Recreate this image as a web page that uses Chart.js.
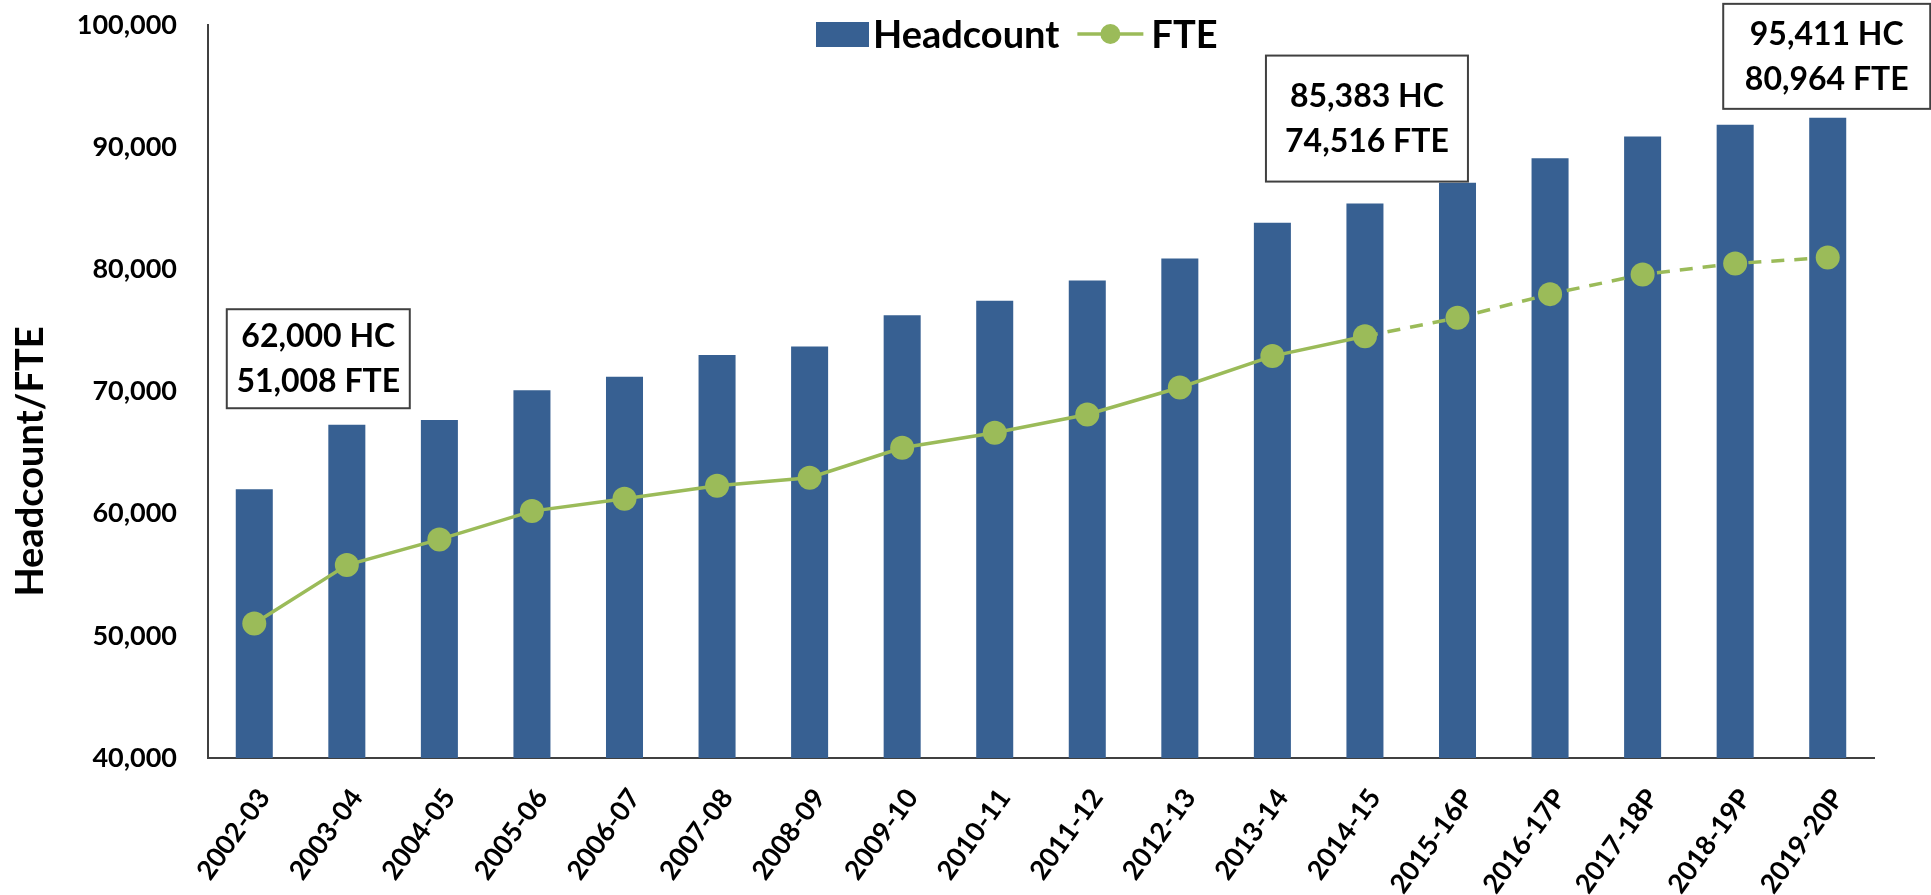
<!DOCTYPE html>
<html>
<head>
<meta charset="utf-8">
<title>Headcount / FTE</title>
<script src="https://cdn.jsdelivr.net/npm/chart.js@4/dist/chart.umd.min.js"></script>
<style>
  html, body { margin: 0; padding: 0; background: #ffffff; }
  #wrap { width: 1931px; height: 895px; }
</style>
</head>
<body>
<div id="wrap"><canvas id="hcChart" width="1931" height="895"></canvas></div>
<script>
// values
const categories = [
  "2002-03", "2003-04", "2004-05", "2005-06", "2006-07", "2007-08",
  "2008-09", "2009-10", "2010-11", "2011-12", "2012-13", "2013-14",
  "2014-15", "2015-16P", "2016-17P", "2017-18P", "2018-19P", "2019-20P",
];
const headcount = [
  62000, 67280, 67660, 70110, 71200, 72980, 73690, 76250, 77420,
  79090, 80890, 83810, 85383, 87080, 89100, 90870, 91830, 92400,
];
const fte = [
  51008, 55790, 57890, 60210, 61220, 62290, 62940, 65390, 66620,
  68120, 70330, 72900, 74516, 76030, 77970, 79580, 80480, 80964,
];
const lastActualIndex = 12; // FTE goes dashed after 2014-15
const yMin = 40000;
const yMax = 100000;
const yStep = 10000;
const yTitle = "Headcount/FTE";
const calloutIndexes = [0, 12, 17];
const calloutLines = [
  ["62,000 HC", "51,008 FTE"],
  ["85,383 HC", "74,516 FTE"],
  ["95,411 HC", "80,964 FTE"],
];

const BAR_COLOR = "#376092";
const LINE_COLOR = "#9bbb59";
const AXIS_COLOR = "#404040";
const FONT = "Lato, 'Open Sans', sans-serif";

// box placement relative to its bar: x shift, gap above bar top, size
const calloutStyle = [
  { dx: 64, gap: 81, w: 183, h: 99 },
  { dx: 2, gap: 22, w: 202, h: 126 },
  { dx: -1, gap: 9, w: 207, h: 105 },
];

const calloutPlugin = {
  id: "callouts",
  afterDatasetsDraw(chart) {
    const { ctx, scales } = chart;
    ctx.save();
    ctx.font = `bold 32px ${FONT}`;
    ctx.textAlign = "center";
    ctx.textBaseline = "middle";
    calloutIndexes.forEach((idx, i) => {
      const st = calloutStyle[i];
      const cx = scales.x.getPixelForValue(idx) + st.dx;
      const bottom = scales.y.getPixelForValue(headcount[idx]) - st.gap;
      const top = bottom - st.h;
      ctx.fillStyle = "#ffffff";
      ctx.fillRect(cx - st.w / 2, top, st.w, st.h);
      ctx.strokeStyle = AXIS_COLOR;
      ctx.lineWidth = 2;
      ctx.strokeRect(cx - st.w / 2, top, st.w, st.h);
      ctx.fillStyle = "#000000";
      const mid = top + st.h / 2;
      ctx.fillText(calloutLines[i][0], cx, mid - 22);
      ctx.fillText(calloutLines[i][1], cx, mid + 23);
    });
    ctx.restore();
  },
};

const legendPlugin = {
  id: "topLegend",
  afterDraw(chart) {
    const { ctx, chartArea } = chart;
    const ds = chart.data.datasets;
    const y = chartArea.top + 9;
    let x = chartArea.left + 608;
    ctx.save();
    ctx.font = `bold 38px ${FONT}`;
    ctx.textBaseline = "middle";
    ctx.textAlign = "left";
    // bar swatch
    ctx.fillStyle = ds[0].backgroundColor;
    ctx.fillRect(x, y - 12, 53, 25);
    x += 57;
    ctx.fillStyle = "#000000";
    ctx.fillText(ds[0].label, x, y + 2);
    x += ctx.measureText(ds[0].label).width + 18;
    // line swatch
    ctx.strokeStyle = ds[1].borderColor;
    ctx.lineWidth = 3.5;
    ctx.beginPath();
    ctx.moveTo(x, y);
    ctx.lineTo(x + 66, y);
    ctx.stroke();
    ctx.fillStyle = ds[1].backgroundColor;
    ctx.beginPath();
    ctx.arc(x + 33, y, 10, 0, Math.PI * 2);
    ctx.fill();
    x += 74;
    ctx.fillStyle = "#000000";
    ctx.fillText(ds[1].label, x, y + 2);
    ctx.restore();
  },
};

const yTitlePlugin = {
  id: "yTitle",
  afterDraw(chart) {
    const { ctx, chartArea } = chart;
    ctx.save();
    ctx.translate(31, (chartArea.top + chartArea.bottom) / 2 + 70);
    ctx.rotate(-Math.PI / 2);
    ctx.font = `bold 38px ${FONT}`;
    ctx.fillStyle = "#000000";
    ctx.textAlign = "center";
    ctx.textBaseline = "middle";
    ctx.fillText(yTitle, 0, 0);
    ctx.restore();
  },
};

new Chart(document.getElementById("hcChart"), {
  type: "bar",
  data: {
    labels: categories,
    datasets: [
      {
        label: "Headcount",
        data: headcount,
        backgroundColor: BAR_COLOR,
        borderWidth: 0,
        barPercentage: 0.4,
        categoryPercentage: 1,
        order: 2,
      },
      {
        type: "line",
        label: "FTE",
        data: fte,
        borderColor: LINE_COLOR,
        backgroundColor: LINE_COLOR,
        borderWidth: 3.5,
        pointRadius: 12,
        pointBorderWidth: 0,
        pointBackgroundColor: LINE_COLOR,
        tension: 0,
        segment: {
          borderDash: (ctx) => (ctx.p0DataIndex >= lastActualIndex ? [13, 10] : undefined),
        },
        order: 1,
      },
    ],
  },
  options: {
    responsive: false,
    animation: false,
    layout: { padding: { left: 0, right: 57, top: 25, bottom: 0 } },
    plugins: {
      legend: { display: false },
      tooltip: { enabled: false },
    },
    scales: {
      x: {
        grid: { display: false, drawTicks: false },
        border: { display: true, color: AXIS_COLOR, width: 2 },
        ticks: {
          color: "#000000",
          font: { family: FONT, size: 27, weight: "bold" },
          minRotation: 54,
          maxRotation: 54,
          padding: 25,
          labelOffset: 10,
          autoSkip: false,
        },
        afterFit: (scale) => {
          scale.height = 137;
          scale.paddingLeft = 0;
          scale.paddingRight = 0;
        },
      },
      y: {
        min: yMin,
        max: yMax,
        grid: { display: false, drawTicks: false },
        border: { display: true, color: AXIS_COLOR, width: 2 },
        ticks: {
          stepSize: yStep,
          color: "#000000",
          padding: 31,
          font: { family: FONT, size: 27, weight: "bold" },
          callback: (v) => v.toLocaleString("en-US"),
        },
        afterFit: (scale) => {
          scale.width = 208;
          scale.paddingTop = 0;
          scale.paddingBottom = 0;
        },
      },
    },
  },
  plugins: [calloutPlugin, legendPlugin, yTitlePlugin],
});
</script>
</body>
</html>
